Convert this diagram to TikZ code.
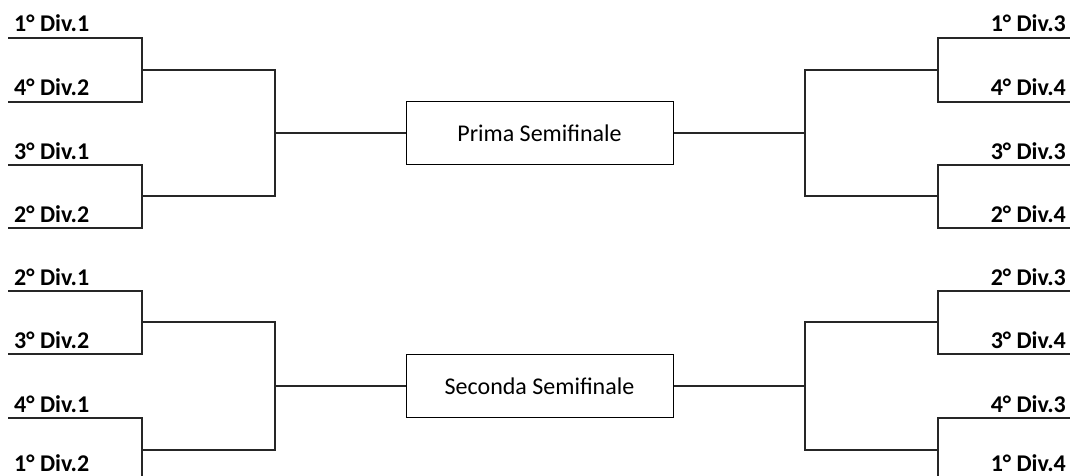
\documentclass[tikz,border=0pt]{standalone}
\usepackage{fontspec}
\setmainfont{Carlito}
\usetikzlibrary{positioning}
\pgfdeclarelayer{edgelayer}
\pgfdeclarelayer{nodelayer}
\pgfsetlayers{edgelayer,nodelayer,main}
\tikzstyle{none}=[inner sep=0pt]
\tikzstyle{teaml}=[inner sep=0pt, anchor=base west, font=\bfseries\fontsize{24}{28}\selectfont]
\tikzstyle{teamr}=[inner sep=0pt, anchor=base east, font=\bfseries\fontsize{24}{28}\selectfont]
\tikzstyle{semi}=[draw, inner sep=0pt, minimum width=267pt, minimum height=63pt, font=\fontsize{24}{28}\selectfont]
\tikzstyle{wire}=[line width=1.3pt, black!85]

\begin{document}
\begin{tikzpicture}[x=1pt, y=-1pt]
	\useasboundingbox (0, 0) rectangle (1070, 476);
	\begin{pgfonlayer}{nodelayer}
		% semifinali
		\node [style=semi] (s1) at (539.5, 133) {Prima Semifinale};
		\node [style=semi] (s2) at (539.5, 386) {Seconda Semifinale};
		% squadre a sinistra
		\node [style=teaml] (t1) at (14, 32) {1° Div.1};
		\node [style=teaml] (t2) at (14, 96) {4° Div.2};
		\node [style=teaml] (t3) at (14, 159) {3° Div.1};
		\node [style=teaml] (t4) at (14, 222) {2° Div.2};
		\node [style=teaml] (t5) at (14, 285) {2° Div.1};
		\node [style=teaml] (t6) at (14, 348) {3° Div.2};
		\node [style=teaml] (t7) at (14, 412) {4° Div.1};
		\node [style=teaml] (t8) at (14, 471) {1° Div.2};
		% squadre a destra
		\node [style=teamr] (u1) at (1066, 32) {1° Div.3};
		\node [style=teamr] (u2) at (1066, 96) {4° Div.4};
		\node [style=teamr] (u3) at (1066, 159) {3° Div.3};
		\node [style=teamr] (u4) at (1066, 222) {2° Div.4};
		\node [style=teamr] (u5) at (1066, 285) {2° Div.3};
		\node [style=teamr] (u6) at (1066, 348) {3° Div.4};
		\node [style=teamr] (u7) at (1066, 412) {4° Div.3};
		\node [style=teamr] (u8) at (1066, 471) {1° Div.4};
		% punti del tabellone
		\node [style=none] (a1) at (8, 38) {};
		\node [style=none] (a2) at (8, 102) {};
		\node [style=none] (a3) at (8, 165) {};
		\node [style=none] (a4) at (8, 228) {};
		\node [style=none] (a5) at (8, 291) {};
		\node [style=none] (a6) at (8, 354) {};
		\node [style=none] (a7) at (8, 418) {};
		\node [style=none] (a8) at (8, 481) {};
		\node [style=none] (b1) at (142, 70) {};
		\node [style=none] (b2) at (142, 196) {};
		\node [style=none] (b3) at (142, 322) {};
		\node [style=none] (b4) at (142, 450) {};
		\node [style=none] (c1) at (275, 133) {};
		\node [style=none] (c2) at (275, 386) {};
		\node [style=none] (d1) at (1075, 38) {};
		\node [style=none] (d2) at (1075, 102) {};
		\node [style=none] (d3) at (1075, 165) {};
		\node [style=none] (d4) at (1075, 228) {};
		\node [style=none] (d5) at (1075, 291) {};
		\node [style=none] (d6) at (1075, 354) {};
		\node [style=none] (d7) at (1075, 418) {};
		\node [style=none] (d8) at (1075, 481) {};
		\node [style=none] (e1) at (938, 70) {};
		\node [style=none] (e2) at (938, 196) {};
		\node [style=none] (e3) at (938, 322) {};
		\node [style=none] (e4) at (938, 450) {};
		\node [style=none] (f1) at (805, 133) {};
		\node [style=none] (f2) at (805, 386) {};
	\end{pgfonlayer}
	\begin{pgfonlayer}{edgelayer}
		% lato sinistro
		\draw [style=wire] (a1.center) -| (b1.center) |- (a2.center);
		\draw [style=wire] (a3.center) -| (b2.center) |- (a4.center);
		\draw [style=wire] (a5.center) -| (b3.center) |- (a6.center);
		\draw [style=wire] (a7.center) -| (b4.center) |- (a8.center);
		\draw [style=wire] (b1.center) -| (c1.center) |- (b2.center);
		\draw [style=wire] (b3.center) -| (c2.center) |- (b4.center);
		\draw [style=wire] (c1.center) to (s1.west);
		\draw [style=wire] (c2.center) to (s2.west);
		% lato destro
		\draw [style=wire] (d1.center) -| (e1.center) |- (d2.center);
		\draw [style=wire] (d3.center) -| (e2.center) |- (d4.center);
		\draw [style=wire] (d5.center) -| (e3.center) |- (d6.center);
		\draw [style=wire] (d7.center) -| (e4.center) |- (d8.center);
		\draw [style=wire] (e1.center) -| (f1.center) |- (e2.center);
		\draw [style=wire] (e3.center) -| (f2.center) |- (e4.center);
		\draw [style=wire] (f1.center) to (s1.east);
		\draw [style=wire] (f2.center) to (s2.east);
	\end{pgfonlayer}
\end{tikzpicture}
\end{document}
